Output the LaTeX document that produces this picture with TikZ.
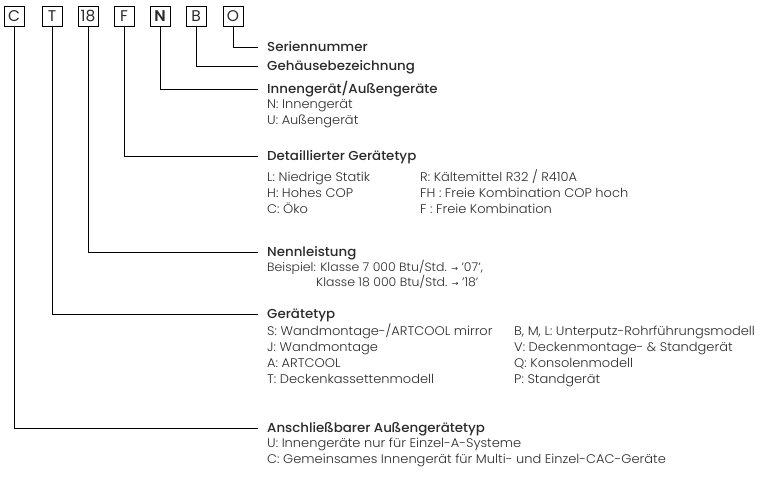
\documentclass[tikz,border=0pt]{standalone}
\usepackage{fontspec}
\setmainfont{Poppins}[UprightFont=* Light, BoldFont=* SemiBold, FakeStretch=1.04]
\newfontfamily\headfont{Poppins}[UprightFont=* Medium, FakeStretch=1.03]
\newfontfamily\codefont{Poppins}[BoldFont=* SemiBold]
\newfontfamily\arrowfont{DejaVu Sans}
\usepackage{xcolor}
\usepackage{tikz}
\definecolor{textgray}{HTML}{2B2B2B}
\newcommand{\pfeil}{{\arrowfont\fontsize{8}{10}\selectfont →}}
\newcommand{\itemcol}[4]{
  \foreach \txt [count=\i] in {#4} {
    \node[item] (#1-\i) at (#2, #3+16*\i-16) {\txt};
  }
}
\tikzset{
  codebox/.style={draw, line width=0.8pt, minimum size=20pt, inner sep=0pt,
    font=\codefont\fontsize{15.5}{17}\selectfont},
  heading/.style={anchor=west, inner xsep=9pt, inner ysep=0pt,
    text height=9pt, text depth=0pt, font=\headfont\fontsize{13}{15}\selectfont},
  item/.style={anchor=west, inner sep=0pt, text height=8pt, text depth=0pt},
  leader/.style={line width=0.8pt}
}
\begin{document}
\begin{tikzpicture}[x=1pt, y=-1pt, text=textgray,
    font=\fontsize{12.5}{15}\selectfont]
  \useasboundingbox (0,0) rectangle (760,480);
  % model code
  \foreach \ch/\nm/\x in {C/c/14, T/t/52, 18/r/88, F/f/124,
      {\textbf{N}}/n/160, B/b/196, O/o/233}
    \node[codebox] (\nm) at (\x,16) {\ch};

  % headings
  \node[heading] (serie) at (258,47) {Seriennummer};
  \node[heading] (gehaeuse) at (258,66) {Gehäusebezeichnung};
  \node[heading] (innen) at (258,89) {Innengerät/Außengeräte};
  \node[heading] (detail) at (258,156) {Detaillierter Gerätetyp};
  \node[heading] (leistung) at (258,252) {Nennleistung};
  \node[heading] (typ) at (258,314) {Gerätetyp};
  \node[heading] (aussen) at (258,428) {Anschließbarer Außengerätetyp};

  \foreach \from/\to in {o/serie, b/gehaeuse, n/innen, f/detail,
      r/leistung, t/typ, c/aussen}
    \draw[leader] (\from.south) |- (\to.west);

  % entries
  \itemcol{innen}{267}{104}{N: Innengerät, U: Außengerät}
  \itemcol{detailA}{267}{177}{L: Niedrige Statik, H: Hohes COP, C: Öko}
  \itemcol{detailB}{420}{177}{R: Kältemittel R32 / R410A,
    FH : Freie Kombination COP hoch, F : Freie Kombination}
  \begin{scope}[font=\fontsize{12}{14}\selectfont]
    \node[item] (bsp1) at (267,267) {Beispiel: Klasse 7 000 Btu/Std. \pfeil{} '07',};
    \node[item] (bsp2) at (316,282) {Klasse 18 000 Btu/Std. \pfeil{} '18'};
  \end{scope}
  \itemcol{typA}{267}{331}{S: Wandmontage-/ARTCOOL mirror, J: Wandmontage,
    A: ARTCOOL, T: Deckenkassettenmodell}
  \itemcol{typB}{514}{331}{{B, M, L: Unterputz-Rohrführungsmodell},
    V: Deckenmontage- \& Standgerät, Q: Konsolenmodell, P: Standgerät}
  \itemcol{aussen}{267}{443}{U: Innengeräte nur für Einzel-A-Systeme,
    C: Gemeinsames Innengerät für Multi- und Einzel-CAC-Geräte}
\end{tikzpicture}
\end{document}
